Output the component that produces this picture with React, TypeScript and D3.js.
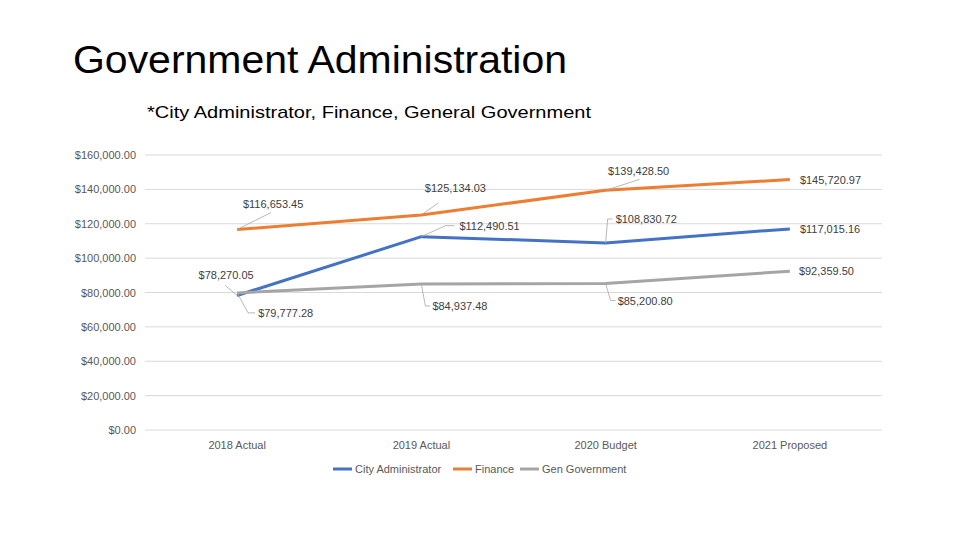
import React from "react";
import * as d3 from "d3";

const categories = ["2018 Actual", "2019 Actual", "2020 Budget", "2021 Proposed"];
const seriesNames = ["City Administrator", "Finance", "Gen Government"];
const cityAdmin = [78270.05, 112490.51, 108830.72, 117015.16];
const finance = [116653.45, 125134.03, 139428.5, 145720.97];
const genGov = [79777.28, 84937.48, 85200.8, 92359.5];
const yTicks = [0, 20000, 40000, 60000, 80000, 100000, 120000, 140000, 160000];
const colors = ["#4472C4", "#ED7D31", "#A5A5A5"];

// label layout: [dx, dy, anchor, leader type] relative to point
type Lab = { dx: number; dy: number; anchor: string; leader: number[][] | null };
const labelLayout: Lab[][] = [
  [
    { dx: -11, dy: -16, anchor: "middle", leader: [[0, 0], [-12, -10]] },
    { dx: 38, dy: -7, anchor: "start", leader: [[0, 0], [24, -11], [33, -11]] },
    { dx: 10, dy: -20, anchor: "start", leader: [[0, 0], [2, -24], [7, -24]] },
    { dx: 10, dy: 4, anchor: "start", leader: null },
  ],
  [
    { dx: 36, dy: -22, anchor: "middle", leader: [[0, 0], [34, -17]] },
    { dx: 34, dy: -23, anchor: "middle", leader: [[0, 0], [17, -12]] },
    { dx: 33, dy: -15, anchor: "middle", leader: [[0, 0], [34, -11]] },
    { dx: 10, dy: 4, anchor: "start", leader: null },
  ],
  [
    { dx: 21, dy: 24, anchor: "start", leader: [[0, 0], [11, 20], [18, 20]] },
    { dx: 11, dy: 26, anchor: "start", leader: [[0, 0], [4, 22], [9, 22]] },
    { dx: 12, dy: 21, anchor: "start", leader: [[0, 0], [5, 17], [10, 17]] },
    { dx: 9, dy: 4, anchor: "start", leader: null },
  ],
];

const fmt = (v: number) => "$" + d3.format(",.2f")(v);

export default function App() {
  const W = 960, H = 540;
  const left = 145, right = 882, top = 155, bottom = 430;
  const x = d3.scaleBand<string>().domain(categories).range([left, right]);
  const y = d3.scaleLinear().domain([0, 160000]).range([bottom, top]);
  const cx = (c: string) => (x(c) as number) + x.bandwidth() / 2;
  const all = [cityAdmin, finance, genGov];
  const line = d3
    .line<number>()
    .x((_, i) => cx(categories[i]))
    .y((d) => y(d));
  const font = "'Liberation Sans', Arial, sans-serif";
  const legendX = [333, 453, 520];
  return (
    <svg width={W} height={H} style={{ position: "absolute", left: 0, top: 0, background: "#fff" }} fontFamily={font}>
      <text x={73} y={73} fontSize={38} fill="#000" textLength={494} lengthAdjust="spacingAndGlyphs">
        Government Administration
      </text>
      <text x={147} y={118} fontSize={17} fill="#000" textLength={444} lengthAdjust="spacingAndGlyphs">
        *City Administrator, Finance, General Government
      </text>
      {yTicks.map((t) => (
        <g key={t}>
          <line x1={left} x2={right} y1={y(t)} y2={y(t)} stroke="#D9D9D9" strokeWidth={1} />
          <text x={136} y={y(t) + 4} fontSize={11} fill="#595959" textAnchor="end">
            {fmt(t)}
          </text>
        </g>
      ))}
      {categories.map((c) => (
        <text key={c} x={cx(c)} y={449} fontSize={11} fill="#595959" textAnchor="middle">
          {c}
        </text>
      ))}
      {all.map((s, si) => (
        <path key={si} d={line(s) || ""} fill="none" stroke={colors[si]} strokeWidth={3} strokeLinejoin="round" />
      ))}
      {all.map((s, si) =>
        s.map((v, i) => {
          const px = cx(categories[i]);
          const py = y(v);
          const L = labelLayout[si][i];
          return (
            <g key={si + "-" + i}>
              {L.leader && (
                <polyline
                  points={L.leader.map((p) => `${px + p[0]},${py + p[1]}`).join(" ")}
                  fill="none"
                  stroke="#A6A6A6"
                  strokeWidth={0.8}
                />
              )}
              <text x={px + L.dx} y={py + L.dy} fontSize={11} fill="#404040" textAnchor={L.anchor}>
                {fmt(v)}
              </text>
            </g>
          );
        })
      )}
      {seriesNames.map((n, i) => (
        <g key={n}>
          <line x1={legendX[i]} x2={legendX[i] + 19} y1={469} y2={469} stroke={colors[i]} strokeWidth={3} />
          <text x={legendX[i] + 22} y={473} fontSize={11} fill="#595959">
            {n}
          </text>
        </g>
      ))}
    </svg>
  );
}
